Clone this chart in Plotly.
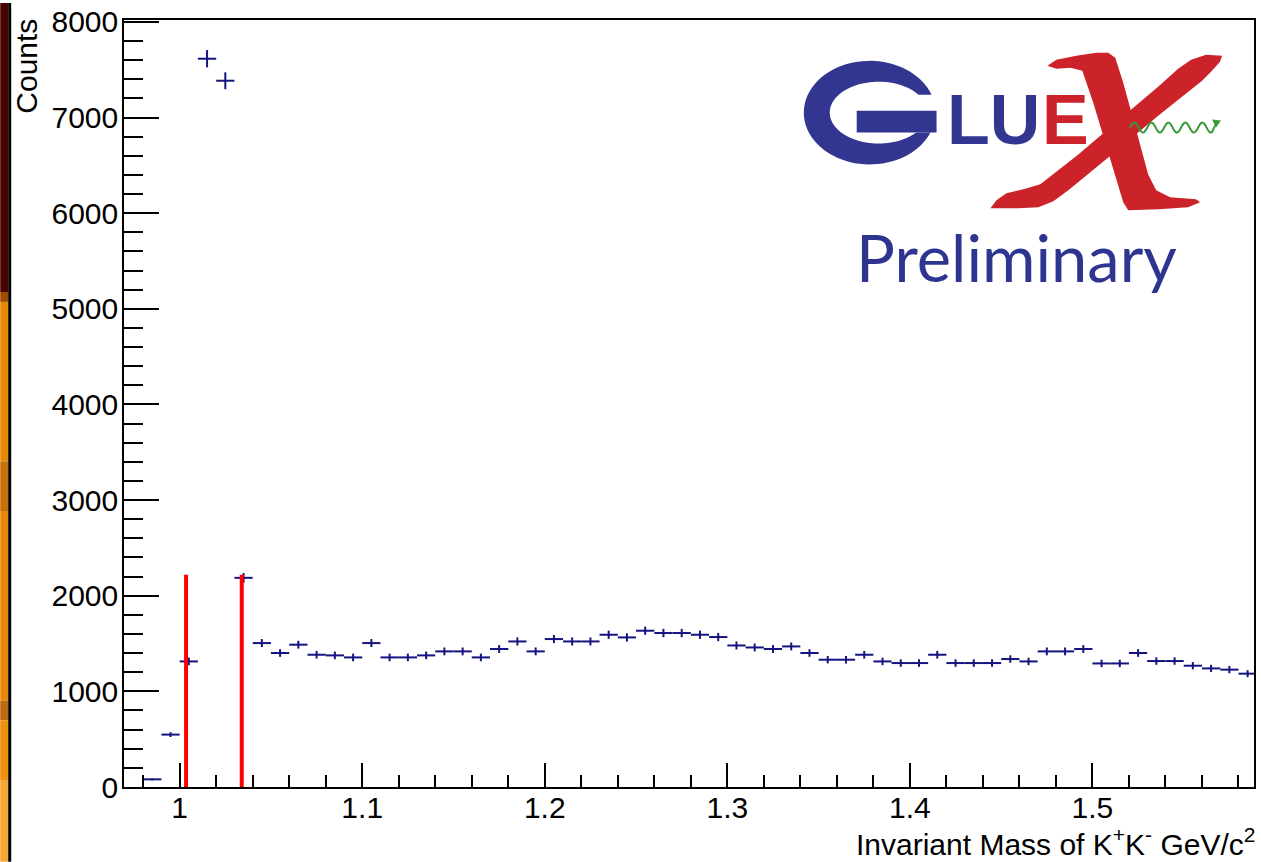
import numpy as np
import plotly.graph_objects as go

# ---------------- data ----------------
bin_centers = [0.985, 0.995, 1.005, 1.015, 1.025, 1.035, 1.045, 1.055, 1.065, 1.075,
               1.085, 1.095, 1.105, 1.115, 1.125, 1.135, 1.145, 1.155, 1.165, 1.175,
               1.185, 1.195, 1.205, 1.215, 1.225, 1.235, 1.245, 1.255, 1.265, 1.275,
               1.285, 1.295, 1.305, 1.315, 1.325, 1.335, 1.345, 1.355, 1.365, 1.375,
               1.385, 1.395, 1.405, 1.415, 1.425, 1.435, 1.445, 1.455, 1.465, 1.475,
               1.485, 1.495, 1.505, 1.515, 1.525, 1.535, 1.545, 1.555, 1.565, 1.575,
               1.585]
counts = [80, 548, 1313, 7615, 7385, 2187, 1505, 1401, 1488, 1383,
          1376, 1355, 1505, 1355, 1355, 1376, 1418, 1418, 1355, 1443,
          1522, 1418, 1547, 1522, 1522, 1592, 1564, 1634, 1610, 1610,
          1592, 1568, 1480, 1459, 1443, 1470, 1401, 1331, 1331, 1383,
          1313, 1296, 1296, 1383, 1296, 1296, 1296, 1338, 1313, 1418,
          1418, 1443, 1292, 1292, 1401, 1317, 1317, 1268, 1240, 1227,
          1185]
count_errors = [10, 25, 40, 90, 88, 50, 42, 40, 41, 40,
                40, 40, 42, 40, 40, 40, 41, 41, 40, 41,
                42, 41, 42, 42, 42, 43, 43, 43, 43, 43,
                43, 43, 42, 41, 41, 41, 40, 39, 39, 40,
                39, 39, 39, 40, 39, 39, 39, 39, 39, 41,
                41, 41, 39, 39, 40, 39, 39, 38, 38, 38,
                37]
bin_half_width = 0.005
cut_positions = [1.0035, 1.034]
cut_top = 2220

x_range = [0.9695, 1.5885]
y_range = [0, 8020]

# ---------------- layout geometry (pixels) ----------------
W, H = 1261, 862
ML, MR, MT, MB = 124, 5, 17, 75
PW, PH = W - ML - MR, H - MT - MB


def P(x, y):
    """pixel -> paper coordinates"""
    return (x - ML) / PW, (H - MB - y) / PH


def path_from(points, close=True):
    s = ""
    for i, (x, y) in enumerate(points):
        px, py = P(x, y)
        s += ("M" if i == 0 else "L") + f"{px:.5f},{py:.5f} "
    if close:
        s += "Z"
    return s


BLUE = "#141480"
fig = go.Figure()

fig.add_trace(go.Scatter(
    x=bin_centers, y=counts, mode="markers",
    marker=dict(size=1, color=BLUE),
    error_x=dict(type="constant", value=bin_half_width, width=0, thickness=2, color=BLUE),
    error_y=dict(type="data", array=count_errors, width=0, thickness=2, color=BLUE),
    showlegend=False, hoverinfo="skip"))

for c in cut_positions:
    fig.add_trace(go.Scatter(x=[c, c], y=[0, cut_top], mode="lines",
                             line=dict(color="#ff0000", width=4),
                             showlegend=False, hoverinfo="skip"))

shapes = []
# left slide background strip
strip = [(0, 290, "#4a0303"), (290, 300, "#a04a00"), (300, 460, "#e88a05"),
         (460, 510, "#c8700a"), (510, 700, "#e8880a"), (700, 720, "#c06a10"),
         (720, 780, "#ee9010"), (780, 862, "#f6a634")]
for y0, y1, col in strip:
    x0p, y0p = P(0, y1)
    x1p, y1p = P(8, y0)
    shapes.append(dict(type="rect", xref="paper", yref="paper", x0=x0p, x1=x1p,
                       y0=y0p, y1=y1p, fillcolor=col, line=dict(width=0), layer="below"))
x0p, y0p = P(8, 862)
x1p, y1p = P(11, 0)
shapes.append(dict(type="rect", xref="paper", yref="paper", x0=x0p, x1=x1p,
                   y0=y0p, y1=y1p, fillcolor="#000000", line=dict(width=0), layer="below"))

# ---- GlueX logo: G ----
LOGO_BLUE = "#323690"
LOGO_RED = "#cc2229"
cxo, cyo, rxo, ryo = 871, 110, 66, 52
cxi, cyi, rxi, ryi = 880, 110, 49, 31
t_o = np.radians(np.linspace(20.3, 337.4, 80))
t_i = np.radians(np.linspace(320.0, 35.5, 80))
g_pts = [(cxo + rxo * np.cos(t), cyo - ryo * np.sin(t)) for t in t_o]
g_pts += [(cxi + rxi * np.cos(t), cyi - ryi * np.sin(t)) for t in t_i]
shapes.append(dict(type="path", xref="paper", yref="paper", path=path_from(g_pts),
                   fillcolor=LOGO_BLUE, line=dict(width=0)))
g_bar = [(858, 108), (938, 108), (938, 130), (858, 130)]
shapes.append(dict(type="path", xref="paper", yref="paper", path=path_from(g_bar),
                   fillcolor=LOGO_BLUE, line=dict(width=0)))

# ---- X ----
x_thin = [(992, 206), (998, 198), (1008, 191), (1025, 187), (1042, 182), (1080, 152),
          (1120, 118), (1160, 84), (1180, 66), (1193, 57), (1208, 52), (1224, 53),
          (1222, 59), (1212, 70), (1204, 78), (1160, 113), (1110, 155), (1070, 188),
          (1055, 199), (1040, 205), (1020, 206)]
x_thick = [(1049, 63), (1058, 57), (1078, 53), (1098, 50), (1110, 50), (1117, 55),
           (1125, 80), (1140, 135), (1150, 172), (1158, 188), (1172, 195), (1198, 197),
           (1202, 200), (1190, 205), (1160, 207), (1130, 208), (1125, 200), (1110, 150),
           (1095, 100), (1084, 68), (1072, 65), (1058, 66)]
for pts in (x_thin, x_thick):
    shapes.append(dict(type="path", xref="paper", yref="paper", path=path_from(pts),
                       fillcolor=LOGO_RED, line=dict(width=0)))

# ---- green wave ----
wx = np.linspace(1132, 1214, 120)
wy = 125 + 5 * np.sin((wx - 1132) / 17.0 * 2 * np.pi + np.pi)
wave = list(zip(wx, wy)) + [(1218, 121)]
shapes.append(dict(type="path", xref="paper", yref="paper", path=path_from(wave, close=False),
                   line=dict(color="#3a9a3a", width=2)))
shapes.append(dict(type="path", xref="paper", yref="paper",
                   path=path_from([(1223, 118), (1214, 117), (1218, 125)]),
                   fillcolor="#3a9a3a", line=dict(width=0)))

annotations = []
ax, ay = P(947, 117)
annotations.append(dict(text="<b>LU</b>", xref="paper", yref="paper", x=ax, y=ay,
                        xanchor="left", yanchor="middle", showarrow=False, borderpad=0,
                        font=dict(family="Liberation Sans", size=70, color=LOGO_BLUE)))
ax, ay = P(1067, 117)
annotations.append(dict(text="<b>E</b>", xref="paper", yref="paper", x=ax, y=ay,
                        xanchor="center", yanchor="middle", showarrow=False, borderpad=0,
                        font=dict(family="Liberation Sans", size=70, color=LOGO_RED)))
ax, ay = P(855, 255)
annotations.append(dict(text="Preliminary", xref="paper", yref="paper", x=ax, y=ay,
                        xanchor="left", yanchor="middle", showarrow=False,
                        font=dict(family="Lato", size=65, color="#2e3590")))

# axis titles
ax, ay = P(1258, 862)
annotations.append(dict(text="Invariant Mass of K<sup>+</sup>K<sup>-</sup> GeV/c<sup>2</sup>",
                        xref="paper", yref="paper", x=ax, y=ay, xanchor="right", yanchor="bottom",
                        showarrow=False, borderpad=0,
                        font=dict(family="Liberation Sans", size=30, color="#000")))
ax, ay = P(26, 14)
annotations.append(dict(text="Counts", xref="paper", yref="paper", x=ax, y=ay, textangle=-90,
                        xanchor="center", yanchor="top", showarrow=False,
                        font=dict(family="Liberation Sans", size=30, color="#000")))

axis_common = dict(showline=True, linecolor="#000", linewidth=1.5, mirror=True,
                   ticks="inside", tickcolor="#000", tickwidth=1.5, showgrid=False,
                   zeroline=False, tickfont=dict(family="Liberation Sans", size=30, color="#000"))

fig.update_layout(
    width=W, height=H, margin=dict(l=ML, r=MR, t=MT, b=MB),
    paper_bgcolor="#ffffff", plot_bgcolor="#ffffff",
    xaxis=dict(range=x_range, tick0=1.0, dtick=0.1, ticklen=24, ticklabelstandoff=-7,
               minor=dict(dtick=0.02, ticklen=12, tickcolor="#000", tickwidth=1.5, ticks="inside"),
               **axis_common),
    yaxis=dict(range=y_range, tick0=0, dtick=1000, ticklen=35, ticklabelstandoff=-2,
               minor=dict(dtick=200, ticklen=19, tickcolor="#000", tickwidth=1.5, ticks="inside"),
               **axis_common),
    shapes=shapes, annotations=annotations,
)

fig.write_html("out.html")
